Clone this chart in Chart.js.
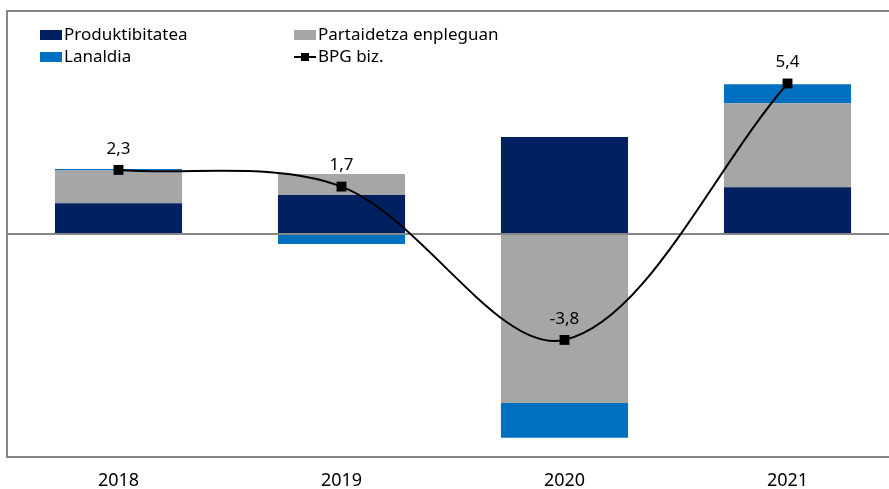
<!DOCTYPE html>
<html>
<head>
<meta charset="utf-8">
<script src="https://cdn.jsdelivr.net/npm/chart.js@4"></script>
<style>
  html, body { margin: 0; padding: 0; background: #fff; overflow: hidden; }
  #wrap { position: absolute; left: 0; top: 0; width: 906px; height: 489px; }
</style>
</head>
<body>
<div id="wrap"><canvas id="chart"></canvas></div>
<script>
// urteak
const years = ['2018', '2019', '2020', '2021'];

// osagaiak (puntu portzentualak)
const produktibitatea = [1.1, 1.4, 3.48, 1.68];
const partaidetza = [1.18, 0.75, -6.06, 3.01];
const lanaldia = [0.05, -0.36, -1.25, 0.68];

// BPG hazkundea
const bpg = [2.3, 1.7, -3.8, 5.4];
const bpgLabels = ['2,3', '1,7', '-3,8', '5,4'];

const colors = {
    prod: '#002060',
    part: '#A6A6A6',
    lan: '#0070C0',
    line: '#000000',
    axis: '#868686'
};

const FONT = "'Noto Sans', sans-serif";

// legenda eta etiketak marrazteko plugina
const extraPlugin = {
    id: 'extra',
    afterDraw(chart) {
        const ctx = chart.ctx;
        const area = chart.chartArea;
        ctx.save();
        // goiko marra
        ctx.strokeStyle = colors.axis;
        ctx.lineWidth = 2;
        ctx.beginPath();
        ctx.moveTo(area.left - 1, area.top);
        ctx.lineTo(chart.width, area.top);
        ctx.stroke();

        // datu etiketak
        const meta = chart.getDatasetMeta(3);
        ctx.fillStyle = '#000';
        ctx.font = '17px ' + FONT;
        ctx.textAlign = 'center';
        ctx.textBaseline = 'middle';
        meta.data.forEach((pt, i) => {
            ctx.fillText(bpgLabels[i], pt.x, pt.y - 21);
        });

        // legenda
        ctx.font = '17px ' + FONT;
        ctx.textAlign = 'left';
        const items = [
            { text: 'Produktibitatea', color: colors.prod, x: 40, y: 35 },
            { text: 'Partaidetza enpleguan', color: colors.part, x: 294, y: 35 },
            { text: 'Lanaldia', color: colors.lan, x: 40, y: 57 },
            { text: 'BPG biz.', color: null, x: 294, y: 57 }
        ];
        items.forEach(it => {
            if (it.color) {
                ctx.fillStyle = it.color;
                ctx.fillRect(it.x, it.y - 5, 22, 10);
            } else {
                ctx.strokeStyle = colors.line;
                ctx.lineWidth = 2;
                ctx.beginPath();
                ctx.moveTo(it.x, it.y);
                ctx.lineTo(it.x + 22, it.y);
                ctx.stroke();
                ctx.fillStyle = colors.line;
                ctx.fillRect(it.x + 7, it.y - 4, 8, 8);
            }
            ctx.fillStyle = '#000';
            ctx.fillText(it.text, it.x + 24, it.y);
        });
        ctx.restore();
    }
};

const ctx = document.getElementById('chart').getContext('2d');
new Chart(ctx, {
    data: {
        labels: years,
        datasets: [
            { type: 'bar', label: 'Produktibitatea', data: produktibitatea, backgroundColor: colors.prod, stack: 'bars', order: 1 },
            { type: 'bar', label: 'Partaidetza enpleguan', data: partaidetza, backgroundColor: colors.part, stack: 'bars', order: 1 },
            { type: 'bar', label: 'Lanaldia', data: lanaldia, backgroundColor: colors.lan, stack: 'bars', order: 1 },
            {
                type: 'line', label: 'BPG biz.', data: bpg, stack: 'line', order: 0,
                borderColor: colors.line, borderWidth: 2, tension: 0.33,
                pointStyle: 'rect', pointRadius: 7, pointBackgroundColor: colors.line,
                pointBorderColor: colors.line, pointBorderWidth: 0
            }
        ]
    },
    options: {
        responsive: true,
        maintainAspectRatio: false,
        animation: false,
        layout: { padding: { top: 11, left: 0, right: 0, bottom: 0 } },
        datasets: { bar: { categoryPercentage: 1, barPercentage: 0.57 } },
        plugins: { legend: { display: false }, tooltip: { enabled: false } },
        scales: {
            x: {
                stacked: true,
                grid: { display: false },
                border: { color: colors.axis, width: 2 },
                ticks: { color: '#000', font: { family: FONT, size: 18 }, padding: 5, maxRotation: 0 },
                afterFit: s => { s.height = 32; }
            },
            y: {
                stacked: true,
                min: -8,
                max: 8,
                ticks: { display: false, stepSize: 8 },
                grid: {
                    drawTicks: false,
                    lineWidth: 2,
                    color: c => (c.tick && c.tick.value === 0 ? colors.axis : 'rgba(0,0,0,0)')
                },
                border: { color: colors.axis, width: 2 },
                afterFit: s => { s.width = 7; }
            }
        }
    },
    plugins: [extraPlugin]
});
</script>
</body>
</html>
